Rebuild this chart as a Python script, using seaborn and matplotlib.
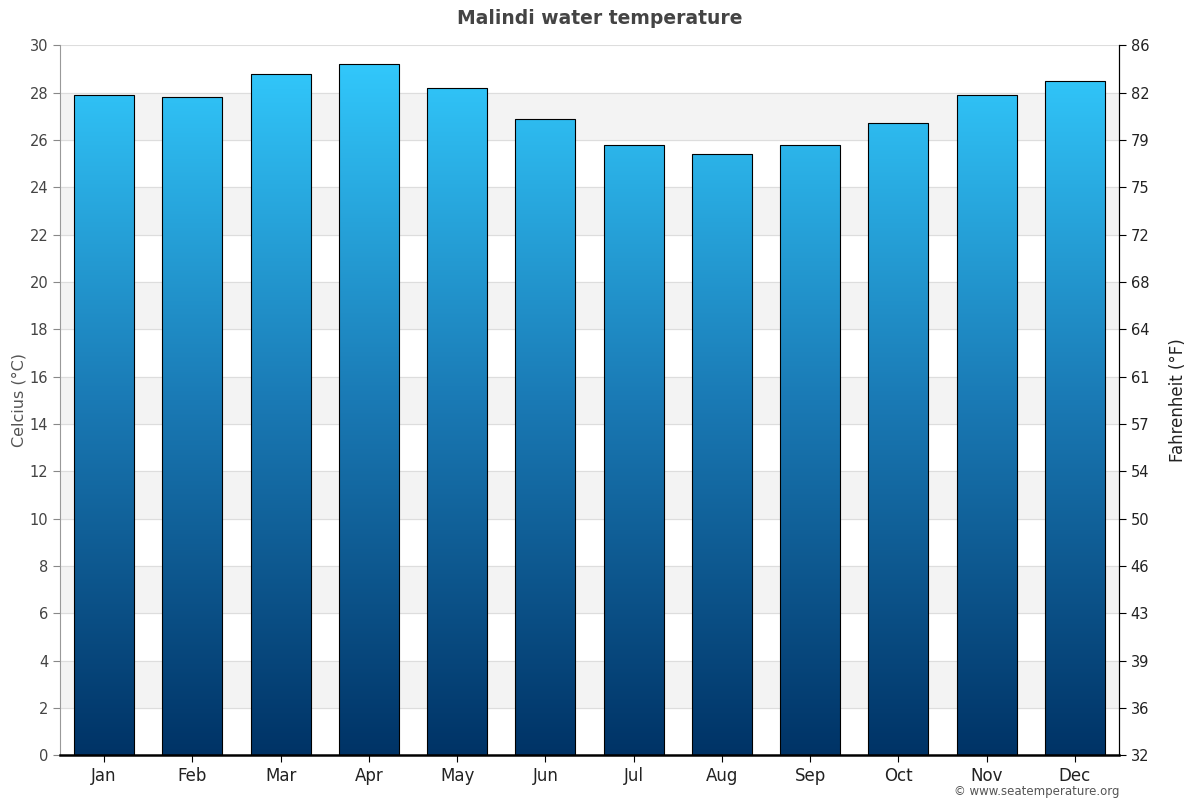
import numpy as np
import pandas as pd
import matplotlib
matplotlib.use('Agg')
import matplotlib.pyplot as plt
import seaborn as sns
from matplotlib.colors import LinearSegmentedColormap

# %% Data
months = ['Jan', 'Feb', 'Mar', 'Apr', 'May', 'Jun',
          'Jul', 'Aug', 'Sep', 'Oct', 'Nov', 'Dec']
water_temp_c = [27.9, 27.8, 28.8, 29.2, 28.2, 26.9,
                25.8, 25.4, 25.8, 26.7, 27.9, 28.5]
celsius_ticks = list(range(0, 31, 2))
fahrenheit_labels = ['32', '36', '39', '43', '46', '50', '54', '57',
                     '61', '64', '68', '72', '75', '79', '82', '86']

df = pd.DataFrame({'month': months, 'temp': water_temp_c})

# %% Plot
sns.set_style('white')
plt.rcParams['font.family'] = ['DejaVu Sans']

fig = plt.figure(figsize=(12, 8), dpi=100)
ax = fig.add_axes([0.05, 0.056, 0.8825, 0.8875])

sns.barplot(data=df, x='month', y='temp', width=0.68, color='#1a88c4',
            edgecolor='black', linewidth=0.8, ax=ax, zorder=2)
bars = list(ax.containers[0].patches)

# alternating background bands
for lo in range(2, 30, 4):
    ax.axhspan(lo, lo + 2, color='#f3f3f3', zorder=0)
for t in celsius_ticks:
    ax.axhline(t, color='#dddddd', lw=0.8, zorder=0.5)

# gradient fill clipped to each bar
cmap = LinearSegmentedColormap.from_list('sea', ['#003366', '#1a7ab5', '#33ccff'])
grad = np.linspace(0, 1, 256).reshape(-1, 1)
for patch in bars:
    x0 = patch.get_x()
    w = patch.get_width()
    patch.set_facecolor('none')
    im = ax.imshow(grad, cmap=cmap, aspect='auto', origin='lower',
                   extent=[x0, x0 + w, 0, 30], zorder=1.9)
    im.set_clip_path(patch)

ax.set_xlim(-0.5, 11.5)
ax.set_ylim(0, 30)
ax.set_yticks(celsius_ticks)
ax.tick_params(axis='y', labelsize=10.5, labelcolor='#444444', length=5,
               color='#888888', left=True)
ax.tick_params(axis='x', labelsize=12, labelcolor='#222222', length=5,
               color='black', bottom=True)
ax.set_xlabel('')
ax.set_ylabel('Celcius (°C)', fontsize=11.5, color='#555555', labelpad=2)

ax.spines['top'].set_visible(False)
ax.spines['left'].set_color('#999999')
ax.spines['bottom'].set_color('black')
ax.spines['bottom'].set_linewidth(1.8)
ax.spines['right'].set_color('black')

ax2 = ax.twinx()
ax2.set_ylim(0, 30)
ax2.set_yticks(celsius_ticks)
ax2.set_yticklabels(fahrenheit_labels)
ax2.tick_params(axis='y', labelsize=10.5, labelcolor='#222222', length=5,
                color='black', right=True)
ax2.set_ylabel('Fahrenheit (°F)', fontsize=12, color='#222222', labelpad=14)
for s in ['top', 'left', 'bottom']:
    ax2.spines[s].set_visible(False)
ax2.spines['right'].set_color('black')

fig.text(0.5, 0.977, 'Malindi water temperature', ha='center', va='center',
         fontsize=13.5, fontweight='bold', color='#444444')
fig.text(0.933, 0.011, '© www.seatemperature.org', ha='right', va='center',
         fontsize=8.5, color='#555555')

fig.savefig('out.png', dpi=100)
